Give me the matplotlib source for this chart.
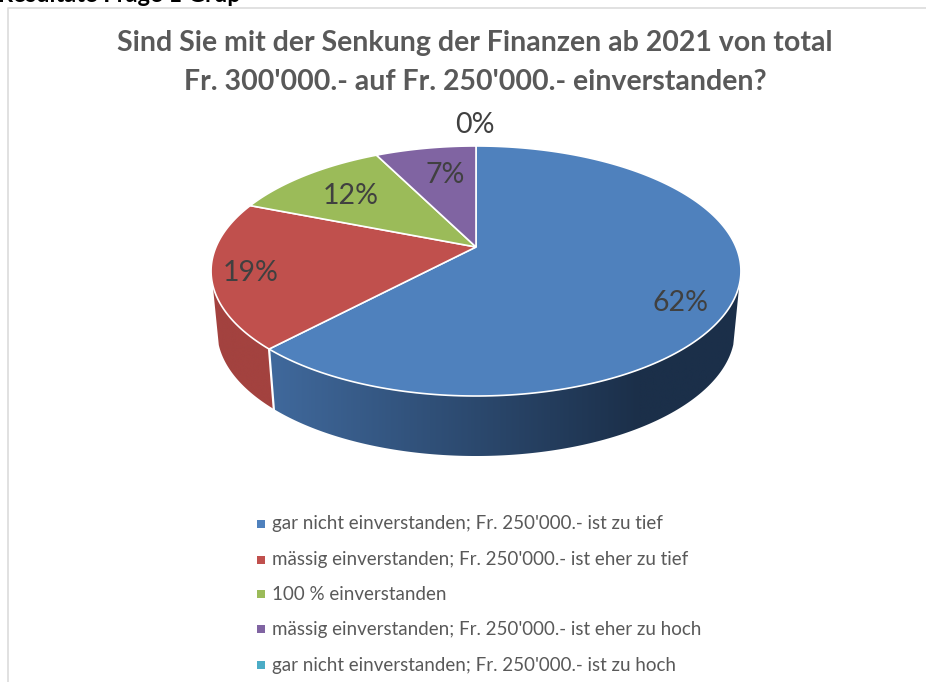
import numpy as np
import matplotlib
matplotlib.use('Agg')
import matplotlib.pyplot as plt
from matplotlib.colors import LinearSegmentedColormap
from matplotlib.patches import Polygon

plt.rcParams['font.family'] = ['Lato', 'DejaVu Sans']

title_lines = ["Sind Sie mit der Senkung der Finanzen ab 2021 von total",
               "Fr. 300'000.- auf Fr. 250'000.- einverstanden?"]
categories = ["gar nicht einverstanden; Fr. 250'000.- ist zu tief",
              "mässig einverstanden; Fr. 250'000.- ist eher zu tief",
              "100 % einverstanden",
              "mässig einverstanden; Fr. 250'000.- ist eher zu hoch",
              "gar nicht einverstanden; Fr. 250'000.- ist zu hoch"]
values = [62, 19, 11.6, 7.4, 0]
colors = ['#4f81bd', '#c0504d', '#9bbb59', '#8064a2', '#4bacc6']
wall_left = ['#40699c', '#a3423f', '#84a04b', '#6d5589', '#3f92a8']
wall_right = ['#1b2f49', '#a3423f', '#84a04b', '#6d5589', '#3f92a8']

# pie geometry in pixels, the disk is tilted so the centre is not in the middle
cx, cy = 476, 247
a, b, k = 260, 120.4, 0.192


def project(ang, scale=1.0, drop=0.0):
    u = np.sin(ang)
    v = np.cos(ang)
    d = 1 + k * v
    return cx + scale * a * u / d, cy - b * v / d + drop


fig = plt.figure(figsize=(9.26, 6.82), dpi=100)
ax = fig.add_axes([0, 0, 1, 1])

# frame of the pasted chart
ax.plot([926, 8, 8], [8, 8, 682], color='#dcdcdc', lw=1.2, zorder=1)

# heading cut off by the screenshot
ax.text(-2, 1.5, "Resultate Frage 1 Grup", fontsize=17, fontweight='bold', color='black',
        ha='left', va='baseline', zorder=0)

for line, ty in zip(title_lines, [43, 82]):
    ax.text(475, ty, line, fontsize=20.5, fontweight='bold', color='#595959', ha='center',
            va='center', zorder=5)

edges = np.cumsum([0] + values) / sum(values) * 2 * np.pi

# outer wall, only the part facing the viewer, gradient clipped to the wall shape
for i in range(len(values)):
    lo, hi = max(edges[i], 1.87), min(edges[i + 1], 4.41)
    if hi <= lo:
        continue
    t = np.linspace(lo, hi, 200)
    x1, y1 = project(t)
    x2, y2 = project(t[::-1], scale=0.977, drop=60)
    xs = np.r_[x1, x2]
    ys = np.r_[y1, y2]
    grid = np.linspace(xs.min(), xs.max(), 400)
    # blue wall is dark already from about x=640 on
    shade = np.clip((grid - 270) / (640 - 270), 0, 1).reshape(1, -1)
    cmap = LinearSegmentedColormap.from_list('wall', [wall_left[i], wall_right[i]])
    im = ax.imshow(shade, cmap=cmap, vmin=0, vmax=1, aspect='auto', zorder=2,
                   extent=[xs.min(), xs.max(), ys.max(), ys.min()])
    patch = Polygon(np.c_[xs, ys], closed=True, transform=ax.transData, fc='none', ec='none')
    ax.add_patch(patch)
    im.set_clip_path(patch)

ax.set_xlim(0, 926)
ax.set_ylim(682, 0)
ax.axis('off')

# white gap on the wall between blue and red
xa, ya = project(edges[1])
xb, yb = project(edges[1], scale=0.977, drop=60)
ax.plot([xa, xb], [ya, yb], color='white', lw=1.6, zorder=3)

# top face
for i in range(len(values)):
    if values[i] == 0:
        continue
    t = np.linspace(edges[i], edges[i + 1], 200)
    x, y = project(t)
    ax.fill(np.r_[cx, x], np.r_[cy, y], facecolor=colors[i], edgecolor='white', lw=1.2,
            joinstyle='miter', zorder=4)

# data labels
label_pos = [(681, 303), (251, 273), (351, 196), (445, 175), (475, 125)]
for v, (lx, ly) in zip(values, label_pos):
    ax.text(lx, ly, '%d%%' % round(v), fontsize=20.5, color='#404040', ha='center', va='center', zorder=6)

# legend
legend_y = [524, 560, 594, 629, 665]
for name, col, ly in zip(categories, colors, legend_y):
    ax.scatter([261], [ly], marker='s', s=33, color=col, linewidths=0, zorder=5)
    ax.text(272, ly, name, fontsize=13.5, color='#595959', ha='left', va='center', zorder=5)

fig.savefig('out.png', dpi=100)
